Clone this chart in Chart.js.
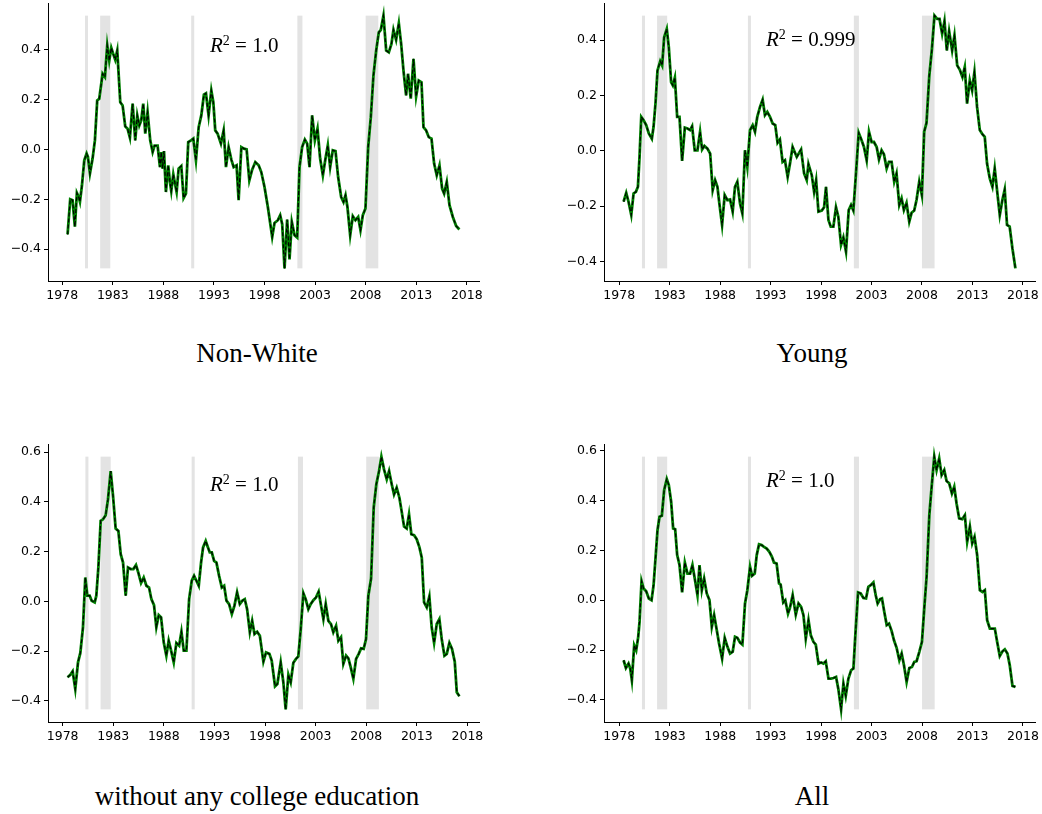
<!DOCTYPE html>
<html>
<head>
<meta charset="utf-8">
<script src="https://cdn.jsdelivr.net/npm/chart.js@4.4.0/dist/chart.umd.min.js"></script>
<style>
  body { margin: 0; background: #fff; }
  #page { position: relative; width: 1042px; height: 814px; overflow: hidden; }
  .panel { position: absolute; }
  .title { position: absolute; width: 500px; text-align: center; font-family: "Liberation Serif", serif; font-size: 27px; line-height: 27px; color: #000; }
  .rsq { position: absolute; font-family: "Liberation Serif", serif; font-size: 21px; line-height: 21px; color: #000; white-space: nowrap; }
  .rsq sup { font-size: 14px; position: relative; top: -7px; vertical-align: baseline; line-height: 0; }
</style>
</head>
<body>
<div id="page">
  <div class="panel" style="left:0px;top:0px"><canvas id="nonWhiteChart" width="490" height="310"></canvas></div>
  <div class="panel" style="left:556px;top:0px"><canvas id="youngChart" width="486" height="310"></canvas></div>
  <div class="panel" style="left:0px;top:441px"><canvas id="noCollegeChart" width="490" height="310"></canvas></div>
  <div class="panel" style="left:556px;top:441px"><canvas id="allChart" width="486" height="310"></canvas></div>

  <div class="rsq" style="left:210px;top:35px"><i>R</i><sup>2</sup> = 1.0</div>
  <div class="rsq" style="left:766px;top:29px"><i>R</i><sup>2</sup> = 0.999</div>
  <div class="rsq" style="left:210px;top:474px"><i>R</i><sup>2</sup> = 1.0</div>
  <div class="rsq" style="left:766px;top:470px"><i>R</i><sup>2</sup> = 1.0</div>

  <div class="title" style="left:7px;top:340px">Non-White</div>
  <div class="title" style="left:562px;top:340px">Young</div>
  <div class="title" style="left:7px;top:783px">without any college education</div>
  <div class="title" style="left:562px;top:783px">All</div>
</div>
<script>
// tick labels
const xTicks = [1978, 1983, 1988, 1993, 1998, 2003, 2008, 2013, 2018];
const yTicksTop = [-0.4, -0.2, 0.0, 0.2, 0.4];
const yTicksBottom = [-0.4, -0.2, 0.0, 0.2, 0.4, 0.6];

// recession bands (start / end, decimal years)
const recessionStart = [1980.25, 1981.75, 1990.75, 2001.25, 2008.0];
const recessionEnd = [1980.55, 1982.75, 1991.05, 2001.75, 2009.25];

// {Non-White}
const nonWhiteYears = [1978.53, 1978.79, 1979.02, 1979.25, 1979.45, 1979.62, 1979.75, 1979.95, 1980.18, 1980.41,
  1980.54, 1980.74, 1981.0, 1981.23, 1981.46, 1981.66, 1981.86, 1981.99, 1982.22, 1982.45,
  1982.65, 1982.85, 1983.04, 1983.24, 1983.44, 1983.74, 1983.97, 1984.23, 1984.46, 1984.69,
  1984.96, 1985.22, 1985.42, 1985.62, 1985.81, 1986.01, 1986.21, 1986.44, 1986.7, 1986.94,
  1987.13, 1987.43, 1987.66, 1987.79, 1987.92, 1988.06, 1988.25, 1988.48, 1988.65, 1988.78,
  1988.98, 1989.18, 1989.31, 1989.51, 1989.77, 1990.0, 1990.23, 1990.46, 1990.73, 1990.96,
  1991.22, 1991.49, 1991.75, 1992.01, 1992.21, 1992.47, 1992.74, 1992.94, 1993.13, 1993.36,
  1993.69, 1993.96, 1994.19, 1994.45, 1994.72, 1994.95, 1995.24, 1995.44, 1995.71, 1995.97,
  1996.23, 1996.5, 1996.76, 1997.09, 1997.42, 1997.68, 1998.0, 1998.33, 1998.76, 1998.99,
  1999.32, 1999.55, 1999.75, 1999.98, 2000.24, 2000.47, 2000.7, 2000.97, 2001.23, 2001.46,
  2001.72, 2001.99, 2002.22, 2002.45, 2002.71, 2002.98, 2003.24, 2003.5, 2003.77, 2004.03,
  2004.26, 2004.49, 2004.75, 2005.02, 2005.28, 2005.58, 2005.81, 2006.01, 2006.2, 2006.47,
  2006.73, 2006.99, 2007.26, 2007.49, 2007.72, 2007.98, 2008.25, 2008.51, 2008.77, 2009.04,
  2009.3, 2009.5, 2009.76, 2010.03, 2010.29, 2010.55, 2010.75, 2011.01, 2011.28, 2011.51,
  2011.74, 2012.0, 2012.19, 2012.46, 2012.73, 2012.99, 2013.25, 2013.52, 2013.72, 2013.98,
  2014.24, 2014.51, 2014.77, 2015.03, 2015.3, 2015.56, 2015.76, 2016.02, 2016.29, 2016.62,
  2016.95, 2017.27];
const nonWhiteValues = [-0.341, -0.200, -0.204, -0.310, -0.175, -0.190, -0.210, -0.144, -0.044, -0.017,
  -0.030, -0.097, -0.037, 0.036, 0.196, 0.203, 0.263, 0.303, 0.290, 0.416,
  0.356, 0.407, 0.383, 0.359, 0.396, 0.189, 0.176, 0.092, 0.083, 0.047,
  0.183, 0.036, 0.136, 0.096, 0.116, 0.183, 0.063, 0.149, 0.036, -0.011,
  0.015, 0.015, -0.071, -0.011, -0.077, -0.007, -0.171, -0.064, -0.131, -0.167,
  -0.100, -0.144, -0.171, -0.077, -0.067, -0.195, -0.177, 0.029, 0.036, 0.043,
  -0.044, 0.089, 0.136, 0.220, 0.225, 0.136, 0.236, 0.189, 0.076, 0.063,
  0.023, 0.076, -0.071, 0.009, -0.041, -0.071, -0.064, -0.204, 0.009, 0.003,
  0.000, -0.124, -0.084, -0.051, -0.064, -0.091, -0.151, -0.231, -0.351, -0.295,
  -0.284, -0.264, -0.300, -0.477, -0.281, -0.441, -0.291, -0.344, -0.353, -0.071,
  0.009, 0.039, 0.023, -0.071, 0.136, 0.036, 0.083, -0.037, -0.104, -0.037,
  0.016, -0.071, -0.004, -0.007, -0.111, -0.191, -0.211, -0.184, -0.231, -0.344,
  -0.268, -0.284, -0.271, -0.324, -0.264, -0.237, 0.009, 0.129, 0.296, 0.396,
  0.469, 0.479, 0.536, 0.396, 0.389, 0.423, 0.479, 0.439, 0.505, 0.423,
  0.316, 0.216, 0.303, 0.203, 0.363, 0.212, 0.276, 0.269, 0.089, 0.076,
  0.049, 0.043, -0.057, -0.104, -0.064, -0.157, -0.177, -0.131, -0.224, -0.271,
  -0.307, -0.321];

// {Young}
const youngYears = [1978.43, 1978.69, 1978.92, 1979.19, 1979.42, 1979.65, 1979.85, 1980.01, 1980.18, 1980.41,
  1980.67, 1980.93, 1981.23, 1981.4, 1981.59, 1981.79, 1982.06, 1982.25, 1982.45, 1982.71,
  1982.91, 1983.14, 1983.31, 1983.51, 1983.74, 1983.97, 1984.23, 1984.5, 1984.76, 1985.02,
  1985.22, 1985.48, 1985.75, 1986.01, 1986.21, 1986.44, 1986.74, 1987.01, 1987.26, 1987.5,
  1987.73, 1987.92, 1988.19, 1988.45, 1988.72, 1988.98, 1989.24, 1989.47, 1989.7, 1989.97,
  1990.2, 1990.46, 1990.69, 1990.96, 1991.22, 1991.45, 1991.68, 1991.95, 1992.21, 1992.44,
  1992.67, 1992.94, 1993.2, 1993.46, 1993.69, 1993.92, 1994.19, 1994.42, 1994.69, 1994.92,
  1995.18, 1995.59, 1996.02, 1996.32, 1996.58, 1996.75, 1997.08, 1997.31, 1997.51, 1997.74,
  1998.07, 1998.3, 1998.49, 1998.73, 1998.96, 1999.22, 1999.48, 1999.71, 1999.98, 2000.21,
  2000.47, 2000.74, 2000.97, 2001.2, 2001.46, 2001.73, 2001.99, 2002.25, 2002.52, 2002.75,
  2003.01, 2003.24, 2003.51, 2003.74, 2004.0, 2004.23, 2004.5, 2004.73, 2004.99, 2005.25,
  2005.48, 2005.75, 2005.98, 2006.21, 2006.47, 2006.74, 2006.97, 2007.23, 2007.46, 2007.73,
  2007.99, 2008.22, 2008.45, 2008.72, 2008.98, 2009.24, 2009.51, 2009.74, 2010.0, 2010.23,
  2010.46, 2010.69, 2010.99, 2011.22, 2011.49, 2011.75, 2012.01, 2012.24, 2012.47, 2012.74,
  2012.97, 2013.2, 2013.46, 2013.73, 2013.99, 2014.22, 2014.45, 2014.72, 2014.98, 2015.21,
  2015.44, 2015.71, 2015.97, 2016.2, 2016.43, 2016.69, 2016.96, 2017.26];
const youngValues = [-0.184, -0.152, -0.184, -0.232, -0.154, -0.148, -0.130, -0.022, 0.123, 0.111,
  0.093, 0.063, 0.044, 0.087, 0.171, 0.291, 0.324, 0.309, 0.411, 0.441,
  0.375, 0.249, 0.237, 0.265, 0.123, 0.123, -0.036, 0.084, 0.081, 0.075,
  0.089, 0.002, 0.002, 0.069, 0.005, 0.018, 0.008, -0.010, -0.142, -0.106,
  -0.130, -0.190, -0.268, -0.160, -0.178, -0.176, -0.220, -0.130, -0.112, -0.190,
  -0.226, 0.002, -0.058, 0.075, 0.093, 0.069, 0.123, 0.159, 0.185, 0.129,
  0.141, 0.123, 0.099, 0.093, 0.029, 0.041, -0.040, -0.034, -0.094, -0.046,
  0.014, -0.022, 0.005, -0.082, -0.106, -0.048, -0.088, -0.148, -0.106, -0.220,
  -0.216, -0.204, -0.130, -0.250, -0.274, -0.274, -0.204, -0.238, -0.340, -0.313,
  -0.364, -0.214, -0.196, -0.216, -0.082, 0.065, 0.041, 0.014, -0.034, 0.069,
  0.032, 0.032, 0.014, -0.031, 0.002, -0.012, -0.064, -0.040, -0.040, -0.112,
  -0.082, -0.196, -0.172, -0.214, -0.188, -0.256, -0.224, -0.216, -0.178, -0.112,
  -0.160, 0.069, 0.101, 0.269, 0.366, 0.489, 0.477, 0.477, 0.423, 0.469,
  0.363, 0.433, 0.363, 0.417, 0.309, 0.293, 0.267, 0.303, 0.171, 0.255,
  0.219, 0.285, 0.159, 0.075, 0.060, 0.051, -0.046, -0.100, -0.130, -0.064,
  -0.142, -0.232, -0.178, -0.140, -0.268, -0.274, -0.352, -0.425];

// {without any college education}
const noCollegeYears = [1978.49, 1978.76, 1978.99, 1979.25, 1979.52, 1979.75, 1980.01, 1980.24, 1980.44, 1980.67,
  1980.87, 1981.17, 1981.33, 1981.53, 1981.76, 1981.99, 1982.25, 1982.48, 1982.75, 1982.98,
  1983.24, 1983.51, 1983.74, 1983.97, 1984.23, 1984.46, 1984.73, 1984.99, 1985.25, 1985.48,
  1985.75, 1986.01, 1986.28, 1986.54, 1986.77, 1987.03, 1987.26, 1987.5, 1987.73, 1987.99,
  1988.25, 1988.48, 1988.68, 1988.98, 1989.24, 1989.51, 1989.74, 1989.97, 1990.23, 1990.5,
  1990.76, 1990.99, 1991.22, 1991.45, 1991.68, 1991.88, 1992.14, 1992.31, 1992.54, 1992.74,
  1992.97, 1993.2, 1993.46, 1993.73, 1993.96, 1994.19, 1994.45, 1994.72, 1994.98, 1995.24,
  1995.51, 1995.77, 1996.0, 1996.23, 1996.5, 1996.73, 1996.96, 1997.22, 1997.49, 1997.84,
  1998.1, 1998.43, 1998.66, 1998.99, 1999.22, 1999.55, 1999.81, 2000.04, 2000.31, 2000.54,
  2000.8, 2001.06, 2001.29, 2001.53, 2001.79, 2002.02, 2002.28, 2002.51, 2002.78, 2003.04,
  2003.3, 2003.54, 2003.77, 2004.0, 2004.26, 2004.52, 2004.75, 2005.02, 2005.25, 2005.51,
  2005.74, 2006.01, 2006.24, 2006.47, 2006.73, 2007.0, 2007.26, 2007.49, 2007.75, 2007.98,
  2008.21, 2008.48, 2008.74, 2009.0, 2009.27, 2009.5, 2009.76, 2010.03, 2010.26, 2010.52,
  2010.75, 2011.01, 2011.28, 2011.51, 2011.74, 2012.0, 2012.23, 2012.46, 2012.73, 2012.99,
  2013.26, 2013.49, 2013.72, 2013.98, 2014.24, 2014.47, 2014.71, 2014.97, 2015.23, 2015.46,
  2015.73, 2015.96, 2016.22, 2016.48, 2016.75, 2016.95, 2017.21];
const noCollegeValues = [-0.305, -0.295, -0.281, -0.352, -0.245, -0.207, -0.104, 0.096, 0.023, 0.023,
  0.003, -0.004, 0.023, 0.136, 0.324, 0.330, 0.346, 0.410, 0.524, 0.424,
  0.293, 0.283, 0.190, 0.156, 0.023, 0.136, 0.130, 0.130, 0.146, 0.116,
  0.074, 0.096, 0.063, 0.056, 0.009, -0.015, -0.104, -0.055, -0.064, -0.164,
  -0.218, -0.158, -0.191, -0.245, -0.167, -0.178, -0.122, -0.198, -0.198, 0.009,
  0.083, 0.103, 0.083, 0.063, 0.156, 0.217, 0.243, 0.223, 0.197, 0.197,
  0.163, 0.156, 0.103, 0.056, 0.063, 0.003, -0.011, -0.051, -0.017, 0.036,
  -0.011, 0.003, 0.009, -0.031, -0.124, -0.078, -0.131, -0.122, -0.138, -0.242,
  -0.205, -0.211, -0.238, -0.341, -0.332, -0.245, -0.325, -0.434, -0.295, -0.325,
  -0.247, -0.231, -0.221, -0.111, 0.033, 0.009, -0.031, -0.011, 0.005, 0.016,
  0.039, -0.017, -0.071, -0.011, -0.078, -0.091, -0.124, -0.098, -0.158, -0.144,
  -0.251, -0.218, -0.229, -0.265, -0.311, -0.231, -0.211, -0.189, -0.191, -0.151,
  0.023, 0.092, 0.377, 0.471, 0.524, 0.582, 0.531, 0.491, 0.524, 0.471,
  0.430, 0.457, 0.417, 0.360, 0.301, 0.293, 0.350, 0.270, 0.266, 0.250,
  0.217, 0.176, -0.004, -0.024, 0.020, -0.104, -0.167, -0.091, -0.071, -0.151,
  -0.218, -0.211, -0.167, -0.191, -0.242, -0.365, -0.381];

// {All}
const allYears = [1978.43, 1978.66, 1978.92, 1979.09, 1979.25, 1979.48, 1979.68, 1979.88, 1980.01, 1980.21,
  1980.41, 1980.67, 1980.93, 1981.2, 1981.4, 1981.59, 1981.79, 1981.99, 1982.22, 1982.45,
  1982.71, 1982.91, 1983.14, 1983.34, 1983.54, 1983.74, 1983.97, 1984.23, 1984.5, 1984.76,
  1985.02, 1985.25, 1985.48, 1985.75, 1985.95, 1986.18, 1986.41, 1986.67, 1986.94, 1987.17,
  1987.4, 1987.66, 1987.89, 1988.19, 1988.45, 1988.72, 1988.98, 1989.24, 1989.47, 1989.7,
  1989.97, 1990.2, 1990.46, 1990.69, 1990.96, 1991.16, 1991.42, 1991.62, 1991.85, 1992.11,
  1992.34, 1992.61, 1992.87, 1993.13, 1993.33, 1993.59, 1993.83, 1993.99, 1994.25, 1994.45,
  1994.72, 1994.91, 1995.18, 1995.49, 1995.76, 1996.02, 1996.25, 1996.48, 1996.75, 1996.98,
  1997.24, 1997.47, 1997.74, 1998.0, 1998.23, 1998.46, 1998.73, 1998.99, 1999.22, 1999.48,
  1999.71, 1999.98, 2000.21, 2000.44, 2000.7, 2000.97, 2001.2, 2001.4, 2001.66, 2001.92,
  2002.19, 2002.45, 2002.68, 2002.91, 2003.18, 2003.41, 2003.6, 2003.84, 2004.03, 2004.26,
  2004.5, 2004.73, 2004.99, 2005.22, 2005.48, 2005.75, 2005.98, 2006.21, 2006.47, 2006.74,
  2007.0, 2007.23, 2007.46, 2007.73, 2007.99, 2008.22, 2008.45, 2008.72, 2008.95, 2009.21,
  2009.44, 2009.7, 2009.94, 2010.2, 2010.43, 2010.69, 2010.96, 2011.19, 2011.42, 2011.68,
  2011.98, 2012.24, 2012.47, 2012.74, 2012.97, 2013.2, 2013.46, 2013.73, 2013.99, 2014.22,
  2014.45, 2014.72, 2014.98, 2015.21, 2015.44, 2015.7, 2015.97, 2016.2, 2016.46, 2016.69,
  2016.96, 2017.25];
const allValues = [-0.241, -0.272, -0.254, -0.274, -0.321, -0.181, -0.201, -0.147, -0.087, 0.076,
  0.047, 0.036, 0.007, 0.000, 0.060, 0.167, 0.281, 0.335, 0.339, 0.442,
  0.486, 0.462, 0.395, 0.288, 0.285, 0.181, 0.141, 0.031, 0.151, 0.107,
  0.107, 0.141, 0.087, 0.020, 0.141, 0.040, 0.087, 0.027, 0.000, -0.107,
  -0.060, -0.120, -0.174, -0.234, -0.151, -0.187, -0.214, -0.207, -0.147, -0.151,
  -0.170, -0.178, -0.013, 0.040, 0.134, 0.098, 0.107, 0.181, 0.224, 0.221,
  0.214, 0.207, 0.194, 0.174, 0.151, 0.147, 0.067, 0.063, -0.009, 0.000,
  -0.054, -0.031, 0.020, -0.058, -0.013, -0.027, -0.060, -0.154, -0.080, -0.141,
  -0.167, -0.178, -0.254, -0.250, -0.254, -0.245, -0.315, -0.315, -0.312, -0.308,
  -0.357, -0.438, -0.335, -0.384, -0.315, -0.281, -0.274, -0.134, 0.031, 0.027,
  0.009, 0.007, 0.054, 0.060, 0.071, 0.020, -0.013, 0.004, 0.007, -0.047,
  -0.100, -0.094, -0.124, -0.161, -0.191, -0.241, -0.214, -0.261, -0.328, -0.272,
  -0.268, -0.248, -0.245, -0.207, -0.167, -0.033, 0.094, 0.341, 0.455, 0.576,
  0.522, 0.569, 0.502, 0.522, 0.478, 0.469, 0.428, 0.455, 0.388, 0.328,
  0.325, 0.341, 0.234, 0.295, 0.228, 0.254, 0.181, 0.040, 0.033, 0.040,
  -0.080, -0.114, -0.114, -0.114, -0.167, -0.224, -0.205, -0.197, -0.214, -0.261,
  -0.344, -0.348];

// 리세션 음영 - 데이터 최소~최대 범위로 칠함
const recessionBands = {
    id: 'recessionBands',
    beforeDatasetsDraw(chart, args, opts) {
        const ctx = chart.ctx;
        const x = chart.scales.x;
        const y = chart.scales.y;
        const area = chart.chartArea;
        const yTop = y.getPixelForValue(opts.hi);
        const yBottom = y.getPixelForValue(opts.lo);
        ctx.save();
        ctx.beginPath();
        ctx.rect(area.left, area.top, area.right - area.left, area.bottom - area.top);
        ctx.clip();
        ctx.fillStyle = opts.color;
        for (let i = 0; i < opts.starts.length; i++) {
            const x1 = x.getPixelForValue(opts.starts[i]);
            const x2 = x.getPixelForValue(opts.ends[i]);
            ctx.fillRect(x1, yTop, x2 - x1, yBottom - yTop);
        }
        ctx.restore();
    }
};

function yLabel(v) {
    const s = Math.abs(v) < 1e-9 ? '0.0' : v.toFixed(1);
    return s.replace('-', '\u2212');
}

// 축 라벨 때문에 차트 영역이 밀리지 않도록 padding 0
function noPad(axis) {
    axis.paddingTop = 0;
    axis.paddingBottom = 0;
    axis.paddingLeft = 0;
    axis.paddingRight = 0;
}

function makePanel(canvasId, years, values, yTicks) {
    const canvas = document.getElementById(canvasId);
    const points = years.map((yr, i) => ({ x: yr, y: values[i] }));
    const xLo = Math.min(...years), xHi = Math.max(...years);
    const yLo = Math.min(...values), yHi = Math.max(...values);
    const xPad = (xHi - xLo) * 0.05, yPad = (yHi - yLo) * 0.05;
    const tickFont = { family: 'DejaVu Sans', size: 12.5 };

    return new Chart(canvas, {
        type: 'line',
        data: {
            datasets: [{
                label: 'fitted',
                data: points,
                borderColor: '#000000',
                borderWidth: 1.2,
                borderDash: [4, 2],
                pointRadius: 0,
                tension: 0,
                fill: false
            },
            {
                label: 'actual',
                data: points,
                borderColor: '#008000',
                borderWidth: 2.8,
                pointRadius: 0,
                tension: 0,
                fill: false
            }]
        },
        options: {
            responsive: false,
            animation: false,
            layout: { padding: { left: 0, right: canvas.width - 479, top: 3, bottom: 0 } },
            scales: {
                x: {
                    type: 'linear',
                    min: xLo - xPad,
                    max: xHi + xPad,
                    afterBuildTicks: (axis) => { axis.ticks = xTicks.map(v => ({ value: v })); },
                    afterFit: (axis) => { axis.height = 29; noPad(axis); },
                    ticks: {
                        color: '#000',
                        font: tickFont,
                        padding: 3,
                        maxRotation: 0,
                        autoSkip: false,
                        callback: (v) => String(v)
                    },
                    grid: { drawOnChartArea: false, drawTicks: true, tickLength: 4, color: '#000' },
                    border: { display: true, color: '#000', width: 1 }
                },
                y: {
                    type: 'linear',
                    min: yLo - yPad,
                    max: yHi + yPad,
                    afterBuildTicks: (axis) => { axis.ticks = yTicks.map(v => ({ value: v })); },
                    afterFit: (axis) => { axis.width = 48; noPad(axis); },
                    ticks: {
                        color: '#000',
                        font: tickFont,
                        padding: 3,
                        autoSkip: false,
                        callback: (v) => yLabel(v)
                    },
                    grid: { drawOnChartArea: false, drawTicks: true, tickLength: 4, color: '#000' },
                    border: { display: true, color: '#000', width: 1 }
                }
            },
            plugins: {
                legend: { display: false },
                tooltip: { enabled: false },
                recessionBands: {
                    starts: recessionStart,
                    ends: recessionEnd,
                    lo: yLo,
                    hi: yHi,
                    color: '#e3e3e3'
                }
            }
        },
        plugins: [recessionBands]
    });
}

const nonWhiteChart = makePanel('nonWhiteChart', nonWhiteYears, nonWhiteValues, yTicksTop);
const youngChart = makePanel('youngChart', youngYears, youngValues, yTicksTop);
const noCollegeChart = makePanel('noCollegeChart', noCollegeYears, noCollegeValues, yTicksBottom);
const allChart = makePanel('allChart', allYears, allValues, yTicksBottom);
</script>
</body>
</html>
